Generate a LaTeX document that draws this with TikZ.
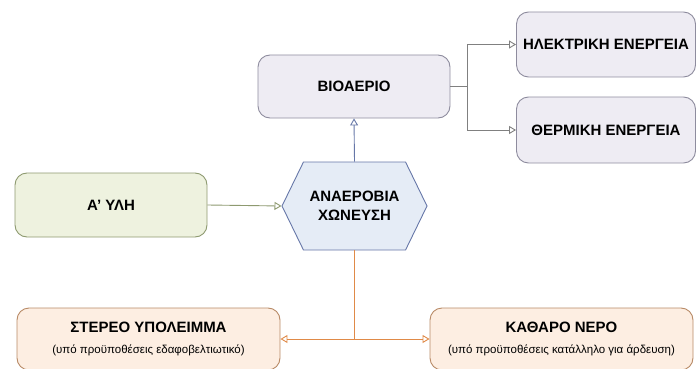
\documentclass[tikz,border=0pt]{standalone}
\usepackage{fontspec}
\setmainfont{Liberation Sans}
\usetikzlibrary{arrows.meta,shapes.symbols}

\definecolor{bioFill}{HTML}{EEECF3}
\definecolor{bioLine}{HTML}{8E8C9E}
\definecolor{hexFill}{HTML}{E5ECF6}
\definecolor{hexLine}{HTML}{6677A8}
\definecolor{yliFill}{HTML}{EEF2DF}
\definecolor{yliLine}{HTML}{8E9A70}
\definecolor{outFill}{HTML}{FDEEE2}
\definecolor{outLine}{HTML}{B88A66}
\definecolor{outWire}{HTML}{E08A48}

\newcommand{\notetext}[1]{{\mdseries\fontsize{11.5}{13}\selectfont #1}}

\begin{document}
\begin{tikzpicture}[x=1pt,y=-1pt]
\tikzstyle{box}=[draw,rounded corners=12pt,line width=0.9pt,align=center,inner sep=2pt,
  font=\bfseries\fontsize{15}{18}\selectfont];
\tikzstyle{gas}=[box,fill=bioFill,draw=bioLine];
\tikzstyle{feed}=[box,fill=yliFill,draw=yliLine];
\tikzstyle{product}=[box,fill=outFill,draw=outLine];
\tikzstyle{wire}=[line width=0.9pt,-{Triangle[open,length=7pt,width=8pt]}];
\useasboundingbox (0,0) rectangle (696,369);

\node[gas,minimum width=192,minimum height=63] (bio) at (354,86.5) {ΒΙΟΑΕΡΙΟ};
\node[gas,minimum width=179,minimum height=65] (elec) at (606,44.5) {ΗΛΕΚΤΡΙΚΗ ΕΝΕΡΓΕΙΑ};
\node[gas,minimum width=179,minimum height=66] (therm) at (606,130) {ΘΕΡΜΙΚΗ ΕΝΕΡΓΕΙΑ};
\node[feed,minimum width=192,minimum height=64] (yli) at (111,205) {Α' ΥΛΗ};
\node[draw=hexLine,fill=hexFill,line width=0.9pt,shape=signal,signal to=west and east,
  signal pointer angle=128,minimum width=145,minimum height=88,align=center,
  font=\bfseries\fontsize{15}{19}\selectfont] (hex) at (354.5,206) {ΑΝΑΕΡΟΒΙΑ\\ΧΩΝΕΥΣΗ};
\node[product,minimum width=263,minimum height=62] (stereo) at (148.5,339)
  {ΣΤΕΡΕΟ ΥΠΟΛΕΙΜΜΑ\\[3pt]\notetext{(υπό προϋποθέσεις εδαφοβελτιωτικό)}};
\node[product,minimum width=263,minimum height=62] (nero) at (561.5,339)
  {ΚΑΘΑΡΟ ΝΕΡΟ\\[3pt]\notetext{(υπό προϋποθέσεις κατάλληλο για άρδευση)}};

\draw[wire,draw=hexLine] (hex.north) -- (bio.south);
\draw[wire,draw=yliLine] (yli.east) -- (hex.west);
\draw[line width=0.9pt,draw=gray] (bio.east) -- ++(17,0) coordinate (split);
\draw[wire,draw=gray] (split) |- (elec.west);
\draw[wire,draw=gray] (split) |- (therm.west);
\draw[wire,draw=outWire] (hex.south) |- (stereo.east);
\draw[wire,draw=outWire] (hex.south) |- (nero.west);
\end{tikzpicture}
\end{document}
